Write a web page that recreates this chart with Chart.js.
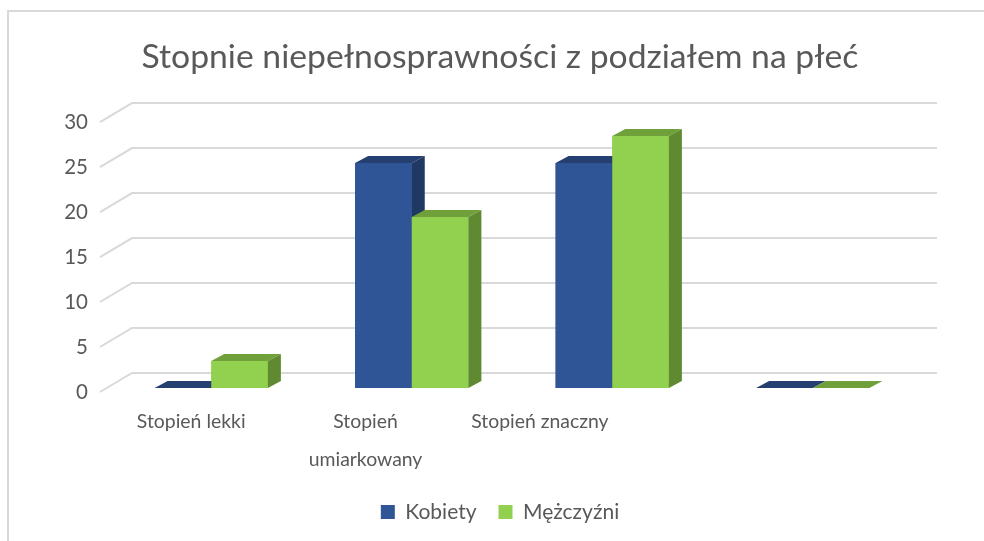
<!DOCTYPE html>
<html>
<head>
<meta charset="utf-8">
<script src="https://cdn.jsdelivr.net/npm/chart.js@4"></script>
<style>
  html, body { margin: 0; padding: 0; background: #fff; }
  #wrap { width: 984px; height: 541px; }
</style>
</head>
<body>
<div id="wrap"><canvas id="chart"></canvas></div>
<script>
const categories = ['Stopień lekki', ['Stopień', 'umiarkowany'], 'Stopień znaczny', ''];
const kobiety = [0, 25, 25, 0];
const mezczyzni = [3, 19, 28, 0];
const yMax = 30;
const yStep = 5;

const TEXT = '#595959';
const GRID = '#d9d9d9';
// front / top / side colours for the fake 3d look
const faces = [
    { front: '#2F5597', top: '#253F70', side: '#1F3864' },
    { front: '#92D050', top: '#6FA03A', side: '#5F8A31' }
];
const DX = 13, DY = -7;

Chart.defaults.font.family = 'Lato';
Chart.defaults.color = TEXT;

const bar3d = {
    id: 'bar3d',
    beforeDraw(chart) {
        const ctx = chart.ctx;
        ctx.save();
        ctx.fillStyle = '#fff';
        ctx.fillRect(0, 0, chart.width, chart.height);
        ctx.strokeStyle = GRID;
        ctx.lineWidth = 2;
        ctx.beginPath();
        ctx.moveTo(8, chart.height);
        ctx.lineTo(8, 11);
        ctx.lineTo(chart.width, 11);
        ctx.stroke();
        ctx.restore();
    },
    beforeDatasetsDraw(chart) {
        // back wall grid with the little diagonal floor edge on the left
        const { ctx, chartArea } = chart;
        const y = chart.scales.y;
        ctx.save();
        ctx.strokeStyle = GRID;
        ctx.lineWidth = 2;
        y.ticks.forEach(t => {
            const py = y.getPixelForValue(t.value);
            ctx.beginPath();
            ctx.moveTo(chartArea.left - 11, py + 4);
            ctx.lineTo(chartArea.left + 21, py - 15);
            ctx.lineTo(chartArea.right + 24, py - 15);
            ctx.stroke();
        });
        ctx.restore();
    },
    afterDatasetsDraw(chart) {
        const ctx = chart.ctx;
        ctx.save();
        categories.forEach((_, i) => {
            chart.data.datasets.forEach((ds, d) => {
                const el = chart.getDatasetMeta(d).data[i];
                const { x, y, base, width } = el.getProps(['x', 'y', 'base', 'width'], true);
                const l = x - width / 2, r = x + width / 2;
                const c = faces[d];
                ctx.fillStyle = c.front;
                ctx.fillRect(l, y, width, base - y);
                ctx.fillStyle = c.top;
                ctx.beginPath();
                ctx.moveTo(l, y);
                ctx.lineTo(l + DX, y + DY);
                ctx.lineTo(r + DX, y + DY);
                ctx.lineTo(r, y);
                ctx.closePath();
                ctx.fill();
                ctx.fillStyle = c.side;
                ctx.beginPath();
                ctx.moveTo(r, y);
                ctx.lineTo(r + DX, y + DY);
                ctx.lineTo(r + DX, base + DY);
                ctx.lineTo(r, base);
                ctx.closePath();
                ctx.fill();
            });
        });
        ctx.restore();
    }
};

new Chart(document.getElementById('chart'), {
    type: 'bar',
    data: {
        labels: categories,
        datasets: [
            { label: 'Kobiety', data: kobiety, backgroundColor: faces[0].front },
            { label: 'Mężczyźni', data: mezczyzni, backgroundColor: faces[1].front }
        ]
    },
    options: {
        responsive: true,
        maintainAspectRatio: false,
        animation: false,
        barPercentage: 1,
        categoryPercentage: 0.565,
        layout: { padding: { left: 36, right: 20, top: 0, bottom: 8.5 } },
        plugins: {
            title: {
                display: true,
                text: 'Stopnie niepełnosprawności z podziałem na płeć',
                color: TEXT,
                font: { size: 33.7, weight: 'normal' },
                padding: { top: 36.8, bottom: 40.8 }
            },
            legend: {
                position: 'bottom',
                labels: { boxWidth: 14, boxHeight: 14, padding: 22, color: TEXT, font: { size: 21 } }
            },
            tooltip: { enabled: false }
        },
        scales: {
            x: { display: false, offset: true },
            // category names sit a bit left of the bars (perspective), so a separate axis
            xLabels: {
                type: 'linear',
                position: 'bottom',
                offset: false,
                min: -0.46,
                max: 4.14,
                grid: { display: false, drawTicks: false },
                border: { display: false },
                afterBuildTicks: s => { s.ticks = categories.map((_, i) => ({ value: i })); },
                afterFit: s => { s.height = 91.5; },
                ticks: {
                    autoSkip: false,
                    maxRotation: 0,
                    padding: 15,
                    color: TEXT,
                    font: { size: 19.4, lineHeight: 1.95 },
                    callback: v => categories[v]
                }
            },
            y: {
                min: 0,
                max: yMax,
                grid: { display: false, drawTicks: false },
                border: { display: false },
                afterFit: s => { s.width = 75; },
                ticks: { stepSize: yStep, padding: 23, labelOffset: 4, color: TEXT, font: { size: 20.5 } }
            },
            yRight: {
                type: 'linear',
                position: 'right',
                grid: { display: false, drawTicks: false },
                border: { display: false },
                ticks: { display: false },
                afterFit: s => { s.width = 51; }
            }
        }
    },
    plugins: [bar3d]
});
</script>
</body>
</html>
